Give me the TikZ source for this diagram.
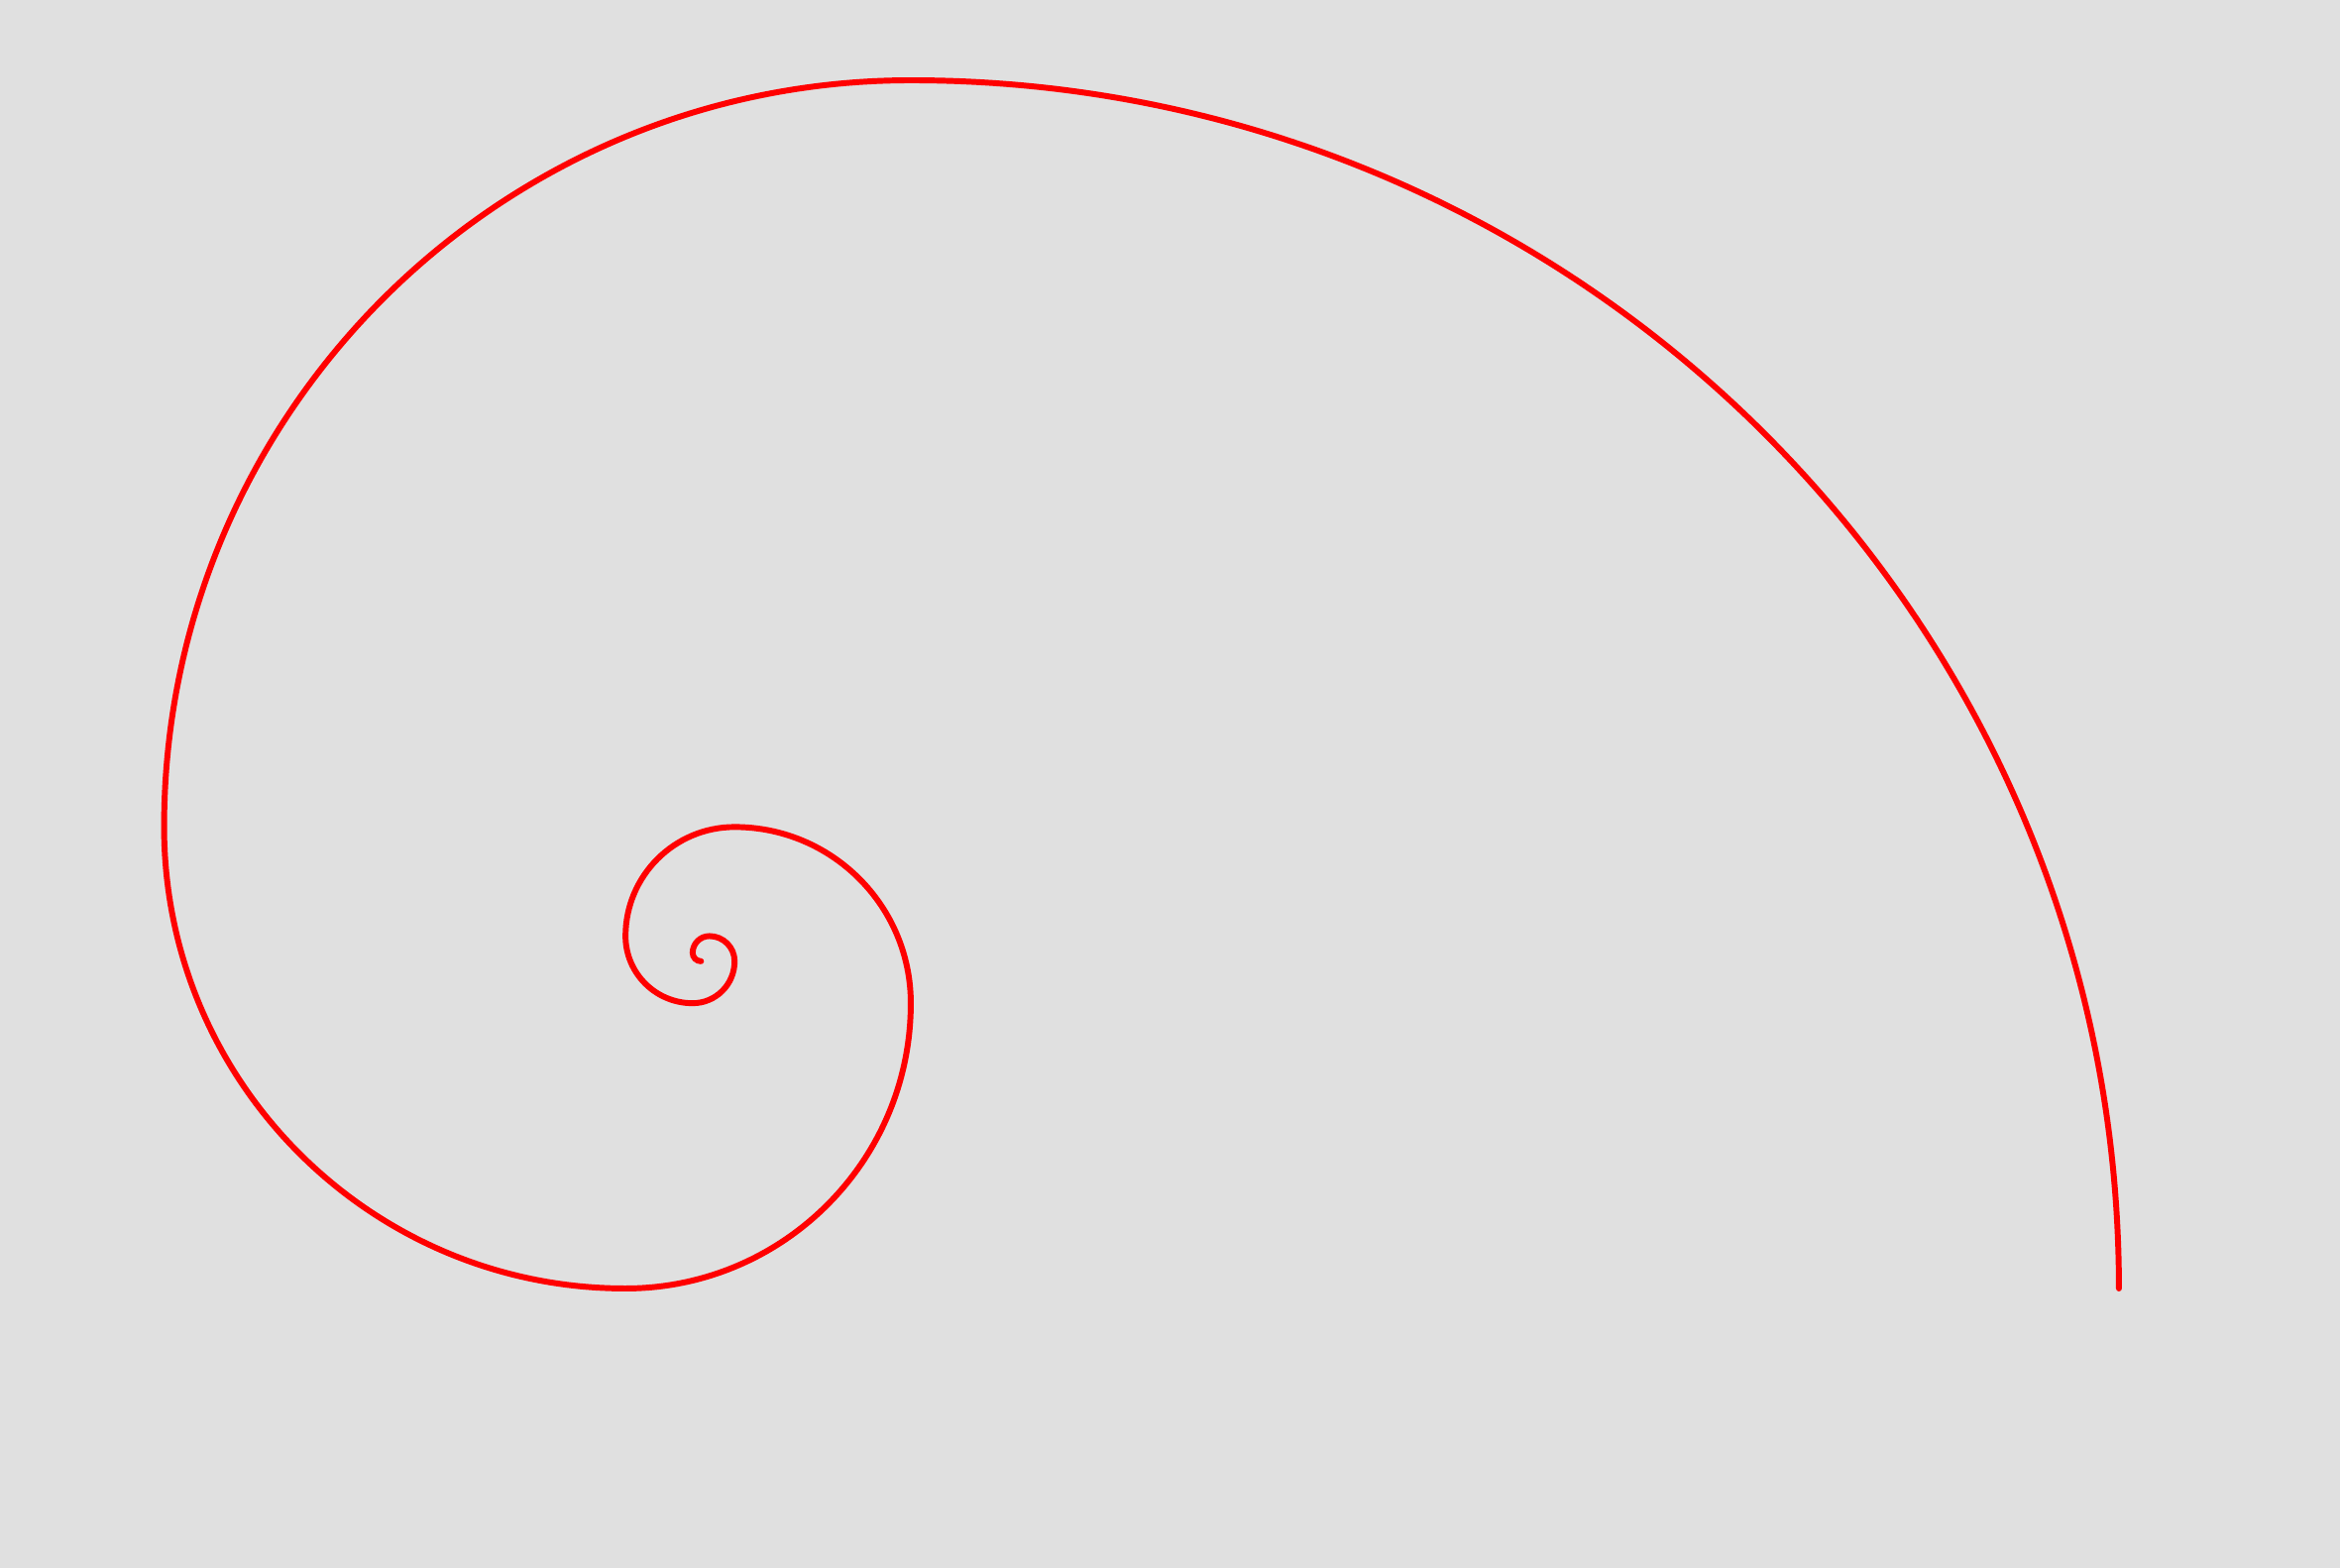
\documentclass[tikz,border=0pt]{standalone}
\usepackage{tikz}
\definecolor{bggray}{HTML}{E0E0E0}

\begin{document}
\begin{tikzpicture}[x=0.1cm,y=0.1cm]
		\fill[bggray] (-108.56,-33.31) rectangle (170.35,153.57);
		% quarter arcs with Fibonacci radii, from the inside out
		\draw[red, line width=2pt, line cap=round] (-25,39)
			\foreach \r [count=\i] in {1,2,3,5,8,13,21,34,55,89,144} {
				arc ({360-90*\i}:{270-90*\i}:\r)
			};
	\end{tikzpicture}
\end{document}
